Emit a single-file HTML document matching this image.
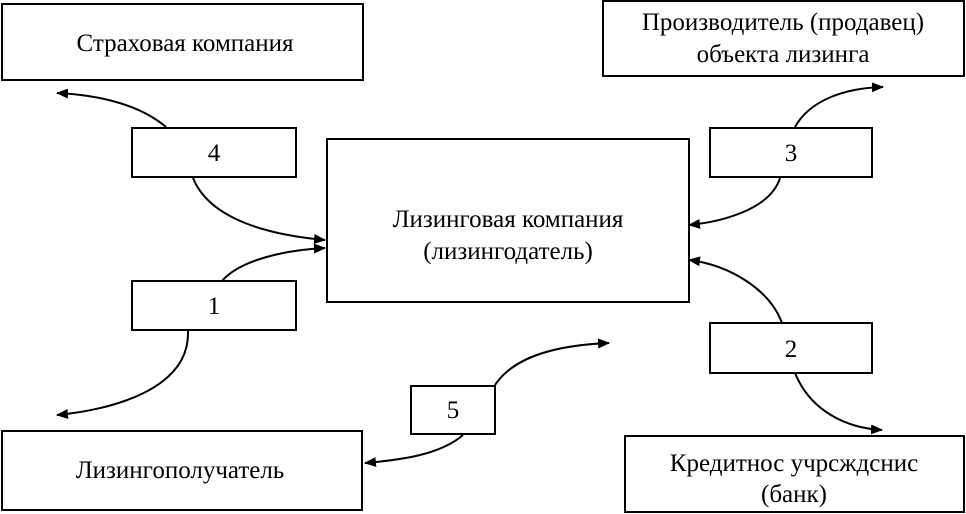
<!DOCTYPE html>
<html><head><meta charset="utf-8"><style>
body{margin:0;background:#fff;}
svg{display:block}
text{font-family:"Liberation Serif",serif;font-size:25px;fill:#000;text-anchor:middle}
</style></head><body>
<svg width="966" height="514" viewBox="0 0 966 514">
<defs><marker id="a" markerWidth="12" markerHeight="10" refX="11" refY="5" orient="auto" markerUnits="userSpaceOnUse"><path d="M0,0 L12,5 L0,10 z" fill="#000"/></marker></defs>
<g fill="#fff" stroke="#000" stroke-width="2">
<rect x="2" y="4" width="361" height="76"/>
<rect x="603" y="1" width="361" height="75"/>
<rect x="327" y="139" width="362" height="163"/>
<rect x="132" y="128" width="164" height="49"/>
<rect x="710" y="128" width="162" height="49"/>
<rect x="132" y="281" width="164" height="49"/>
<rect x="710" y="323" width="162" height="50"/>
<rect x="411" y="386" width="84" height="48"/>
<rect x="2" y="431" width="360" height="79"/>
<rect x="625" y="436" width="339" height="76"/>
</g>
<g fill="none" stroke="#000" stroke-width="2" marker-end="url(#a)">
<path d="M166,127 C140,105 100,95 57,93"/>
<path d="M193,178 C210,220 270,235 325,240"/>
<path d="M222,281 C240,260 285,250 325,248"/>
<path d="M188,331 C190,390 110,410 57,415"/>
<path d="M495,385 C515,355 560,345 609,343"/>
<path d="M463,435 C440,455 400,460 365,463"/>
<path d="M795,127 C810,100 845,88 883,87"/>
<path d="M780,178 C770,210 720,222 689,225"/>
<path d="M782,323 C770,290 730,265 689,260"/>
<path d="M795,373 C810,410 845,428 882,430"/>
</g>
<text x="185" y="51">Страховая компания</text>
<text x="783" y="30">Производитель (продавец)</text>
<text x="783" y="62">объекта лизинга</text>
<text x="508" y="227">Лизинговая компания</text>
<text x="508" y="259">(лизингодатель)</text>
<text x="214" y="161">4</text>
<text x="791" y="161">3</text>
<text x="214" y="314">1</text>
<text x="791" y="357">2</text>
<text x="453" y="418">5</text>
<text x="180" y="478">Лизингополучатель</text>
<text x="794" y="471">Кредитнос учрсждснис</text>
<text x="794" y="502">(банк)</text>
</svg>
</body></html>
